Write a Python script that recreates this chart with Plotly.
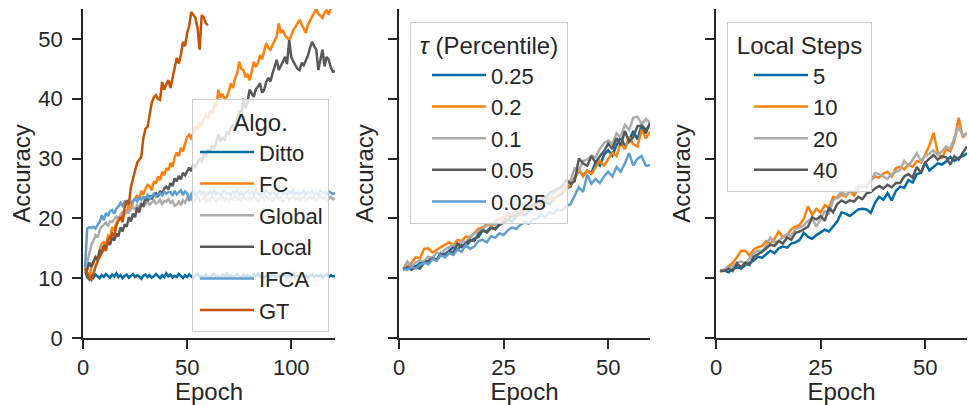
import plotly.graph_objects as go

# ---------------- data ----------------
# Panel 1: accuracy per epoch for each algorithm
algo_names = ["Ditto", "FC", "Global", "Local", "IFCA", "GT"]

ditto = [11.2, 10.2, 9.8, 10.4, 10.1, 10.6, 10.3, 10.0, 10.5, 10.2,
         10.7, 10.4, 10.1, 10.6, 10.3, 10.8, 10.2, 10.5, 10.0, 10.4,
         10.6, 10.1, 10.4, 10.7, 10.2, 10.5, 10.3, 9.9, 10.4, 10.6,
         10.2, 10.5, 10.1, 10.3, 10.7, 10.4, 10.0, 10.5, 10.2, 10.8,
         10.3, 10.6, 10.1, 10.4, 10.2, 10.7, 10.3, 10.0, 10.5, 10.2,
         10.6, 10.3, 10.0, 10.5, 10.8, 10.2, 10.4, 10.1, 10.6, 10.3,
         10.0, 10.5, 10.7, 10.2, 10.4, 10.1, 10.6, 10.3, 10.8, 10.2,
         10.5, 10.0, 10.4, 10.7, 10.3, 10.1, 10.6, 10.2, 10.5, 10.4,
         10.1, 10.6, 10.3, 10.8, 10.2, 10.5, 10.0, 10.4, 10.6, 10.2,
         10.7, 10.3, 10.1, 10.5, 10.2, 10.6, 10.4, 10.0, 10.5, 10.3,
         10.8, 10.2, 10.4, 10.1, 10.6, 10.3, 10.5, 10.0, 10.4, 10.7,
         10.2, 10.5, 10.3, 10.6, 10.1, 10.4, 10.7, 10.2, 10.5, 10.3, 10.4]

fc = [11.5, 11.0, 10.2, 11.8, 12.4, 13.6, 13.2, 14.5, 15.8, 16.0,
      15.4, 17.1, 16.8, 18.5, 18.0, 19.2, 19.8, 20.5, 19.9, 21.2,
      21.0, 22.2, 21.6, 22.8, 23.3, 23.9, 23.1, 24.6, 24.0, 25.0,
      25.6, 25.3, 24.7, 26.2, 25.8, 27.0, 26.4, 27.8, 27.2, 28.4,
      28.0, 29.3, 28.6, 30.2, 31.0, 30.4, 31.8, 31.2, 32.5, 33.6,
      34.0, 33.2, 34.5, 35.3, 34.8, 36.0, 35.4, 36.6, 37.2, 36.8,
      38.0, 37.5, 39.2, 38.6, 41.5, 40.2, 40.8, 39.9, 40.3, 41.2,
      42.6, 41.8, 43.4, 44.2, 46.2, 45.0, 44.8, 43.6, 44.0, 43.1,
      44.5, 46.2, 45.3, 46.0, 47.3, 46.6, 48.0, 49.3, 48.5, 48.2,
      49.0, 49.8, 50.4, 52.6, 51.0, 51.5, 50.6, 50.2, 49.8, 50.6,
      51.5, 52.0, 52.6, 53.2, 52.4, 51.8, 51.0, 52.4, 53.0, 53.7,
      54.3, 55.0, 54.2, 53.8, 53.5, 54.4, 54.8, 54.0, 55.3, 55.6, 55.8]

global_ = [11.0, 12.6, 14.5, 15.6, 16.2, 17.2, 16.8, 18.0, 18.6, 19.0,
           19.3, 18.7, 19.5, 19.4, 19.8, 20.3, 19.9, 20.6, 21.0, 20.7,
           21.3, 21.0, 21.6, 21.9, 21.4, 22.2, 21.8, 22.5, 22.0, 22.4,
           22.8, 22.3, 22.6, 23.0, 22.5, 22.7, 23.1, 22.4, 22.9, 22.8,
           23.2, 22.6, 22.9, 22.1, 22.3, 22.8, 22.2, 23.0, 22.6, 23.3,
           23.0, 23.4, 22.7, 23.2, 23.6, 22.9, 23.1, 23.5, 22.8, 23.3,
           23.0, 23.6, 23.2, 22.8, 23.4, 23.1, 23.7, 23.0, 23.3, 22.9,
           23.5, 23.2, 23.8, 23.1, 23.4, 22.9, 23.6, 23.3, 23.0, 23.5,
           23.2, 23.7, 23.4, 22.9, 23.3, 23.6, 23.1, 23.8, 23.2, 23.5,
           23.0, 23.4, 23.7, 23.2, 23.5, 22.9, 23.3, 23.6, 23.1, 23.4,
           23.8, 23.2, 23.5, 23.0, 23.4, 23.7, 23.1, 23.3, 23.6, 23.2,
           23.5, 22.9, 23.4, 23.7, 23.2, 23.5, 23.0, 23.3, 23.6, 23.2, 23.4]

local = [11.5, 11.4, 12.6, 11.9, 12.8, 13.5, 13.0, 14.7, 14.2, 15.5,
         15.0, 16.1, 15.6, 16.9, 16.3, 17.4, 17.0, 18.5, 17.8, 19.0,
         18.6, 20.2, 19.5, 20.8, 20.2, 21.8, 21.0, 22.5, 22.0, 23.6,
         22.9, 23.8, 23.2, 24.0, 24.2, 23.6, 24.6, 24.1, 25.0, 25.3,
         24.8, 25.9, 25.4, 26.7, 26.2, 27.1, 26.5, 27.6, 27.2, 28.0,
         28.5, 27.9, 29.0, 28.6, 29.3, 30.0, 29.4, 30.8, 30.3, 31.5,
         31.0, 32.2, 31.6, 33.0, 34.0, 32.8, 33.6, 33.0, 34.5, 34.0,
         35.2, 35.5, 34.8, 36.6, 38.0, 37.2, 40.0, 38.4, 39.5, 41.5,
         40.8, 40.3, 41.6, 42.0, 42.6, 41.0, 41.5, 42.8, 43.5, 42.9,
         44.2, 45.3, 46.5, 44.8, 45.4, 46.2, 47.0, 45.8, 49.8, 47.0,
         46.2, 45.5, 45.0, 44.8, 46.0, 45.6, 46.5, 47.2, 48.5, 49.5,
         48.8, 48.2, 44.8, 46.6, 48.2, 45.4, 47.0, 46.5, 45.2, 44.5, 44.6]

ifca = [11.8, 18.3, 18.5, 18.4, 18.6, 18.3, 18.9, 19.4, 20.5, 19.7,
        20.9, 20.4, 21.2, 21.4, 20.8, 21.6, 22.0, 22.6, 22.1, 22.8,
        22.4, 23.0, 22.6, 23.0, 23.3, 22.8, 23.5, 23.1, 23.6, 23.4,
        23.9, 23.3, 23.7, 24.1, 23.6, 24.0, 24.2, 23.8, 24.5, 24.1,
        24.4, 24.4, 23.8, 24.6, 24.0, 24.3, 24.7, 23.9, 24.5, 24.2,
        23.0, 24.1, 24.5, 23.9, 24.3, 24.6, 24.0, 24.4, 23.8, 24.2,
        24.5, 24.1, 24.7, 24.0, 24.3, 23.8, 24.4, 24.6, 24.1, 24.3,
        23.9, 24.5, 24.2, 24.7, 24.0, 24.4, 23.8, 24.3, 24.6, 24.1,
        24.4, 24.0, 24.6, 24.2, 23.9, 24.5, 24.1, 24.7, 24.3, 24.0,
        24.5, 24.2, 23.8, 24.4, 24.6, 24.1, 24.3, 24.0, 24.5, 24.2,
        24.7, 24.1, 24.4, 23.9, 24.3, 24.6, 24.0, 24.4, 24.2, 24.5,
        24.1, 24.3, 23.9, 24.6, 24.2, 24.4, 24.0, 24.5, 24.3, 24.1, 24.2]

gt = [11.7, 10.8, 10.0, 9.7, 11.0, 11.9, 12.8, 13.5, 14.2, 15.0,
      14.6, 16.3, 16.8, 17.5, 17.0, 18.8, 19.6, 20.2, 19.4, 21.8,
      23.0, 22.3, 25.2, 26.4, 28.0, 29.3, 29.8, 30.3, 33.5, 35.0,
      35.3, 37.5, 39.3, 40.2, 40.6, 40.0, 39.8, 42.8, 41.5, 42.4,
      43.1, 41.8, 43.6, 45.5, 46.8, 45.9, 47.3, 49.5, 48.8, 51.0,
      52.2, 54.5, 53.9, 53.5, 51.8, 48.2, 54.0, 53.6, 52.6, 52.3]

# Panel 2: accuracy per epoch for each percentile threshold tau
tau_names = ["0.25", "0.2", "0.1", "0.05", "0.025"]

tau_025 = [11.5, 11.6, 12.2, 11.9, 12.5, 12.9, 12.6, 13.4, 13.1, 14.2,
           14.0, 14.6, 15.2, 14.8, 15.6, 15.3, 16.2, 16.6, 16.9, 18.0,
           17.8, 18.6, 18.2, 19.0, 19.4, 19.8, 19.5, 20.3, 20.8, 20.5,
           21.2, 21.8, 21.4, 22.3, 22.8, 22.4, 23.3, 23.8, 24.2, 25.0,
           25.3, 26.8, 28.0, 27.2, 28.0, 27.6, 29.4, 28.8, 30.6, 31.4,
           30.5, 32.2, 33.6, 32.0, 33.0, 34.6, 33.2, 35.6, 34.8, 35.6]

tau_02 = [11.5, 12.0, 12.6, 13.5, 13.3, 14.9, 15.0, 14.3, 14.8, 15.2,
          15.6, 16.0, 15.5, 16.4, 16.2, 17.0, 16.8, 17.6, 18.3, 18.5,
          19.0, 18.7, 19.6, 20.0, 19.6, 20.8, 20.3, 21.1, 20.6, 21.3,
          21.9, 21.5, 22.4, 22.0, 22.9, 23.4, 23.0, 23.9, 24.5, 25.0,
          25.6, 26.6, 28.2, 27.0, 28.0, 27.4, 28.6, 29.6, 28.8, 29.8,
          31.0, 30.4, 32.6, 31.6, 33.6, 32.4, 32.0, 34.8, 33.4, 34.5]

tau_01 = [11.5, 12.8, 12.0, 12.6, 13.0, 12.8, 13.6, 13.4, 14.3, 14.0,
          14.8, 15.2, 15.6, 15.4, 16.2, 16.0, 17.0, 17.4, 17.8, 18.3,
          18.8, 19.2, 18.9, 19.8, 20.2, 20.9, 20.5, 21.3, 21.1, 21.5,
          22.2, 22.0, 22.8, 23.1, 23.6, 23.4, 24.2, 24.8, 25.0, 25.5,
          26.3, 28.4, 28.0, 29.6, 29.8, 30.5, 30.2, 31.6, 32.6, 33.0,
          32.4, 34.2, 33.6, 35.6, 34.8, 36.8, 37.0, 35.8, 36.6, 36.0]

tau_005 = [11.5, 11.8, 11.4, 11.9, 11.6, 12.6, 12.9, 13.3, 13.0, 14.0,
           13.8, 14.5, 14.3, 15.8, 15.2, 15.9, 16.4, 16.2, 17.4, 18.0,
           17.6, 18.4, 18.2, 18.9, 19.3, 19.8, 20.5, 20.4, 21.0, 21.5,
           21.9, 22.3, 22.6, 23.2, 23.5, 24.2, 24.6, 25.0, 25.4, 26.4,
           25.8, 26.2, 30.0, 29.2, 28.8, 30.4, 29.3, 30.4, 31.2, 32.5,
           31.6, 33.4, 32.2, 34.6, 32.8, 33.6, 35.4, 35.5, 34.2, 36.0]

tau_0025 = [11.5, 11.4, 11.9, 11.6, 12.2, 12.6, 12.3, 13.2, 12.9, 13.8,
            13.5, 14.2, 13.9, 14.8, 14.4, 15.6, 14.9, 15.3, 16.2, 16.4,
            16.0, 17.0, 16.8, 17.5, 17.2, 18.0, 18.5, 18.2, 18.9, 19.4,
            19.1, 19.8, 20.0, 20.6, 20.2, 21.0, 20.8, 21.5, 21.3, 22.0,
            22.4, 23.9, 25.2, 24.4, 27.3, 25.8, 26.6, 25.9, 27.0, 27.8,
            27.0, 28.6, 27.8, 29.2, 30.9, 28.8, 30.0, 30.4, 28.8, 28.9]

# Panel 3: accuracy per epoch for each number of local steps
step_names = ["5", "10", "20", "40"]

steps_5 = [11.2, 11.3, 11.0, 11.5, 11.8, 11.6, 12.2, 12.5, 12.9, 13.6,
           13.4, 14.0, 14.6, 14.2, 15.0, 15.3, 15.1, 15.8, 16.0, 16.4,
           17.6, 16.9, 16.6, 17.2, 17.6, 18.1, 17.8, 18.6, 19.5, 21.0,
           20.8, 20.4, 21.0, 21.5, 21.6, 21.5, 20.9, 22.6, 23.6, 23.1,
           24.2, 23.0, 24.6, 25.3, 25.1, 26.4, 26.0, 27.4, 27.6, 29.4,
           28.0, 28.6, 29.2, 29.0, 29.5, 30.3, 29.6, 30.1, 30.4, 30.9]

steps_10 = [11.0, 11.4, 12.0, 12.6, 13.5, 14.6, 14.6, 13.8, 14.8, 15.2,
            15.4, 16.2, 15.8, 16.6, 17.8, 16.8, 17.2, 18.2, 18.6, 18.9,
            20.0, 22.0, 20.6, 21.6, 21.0, 22.2, 21.8, 23.6, 23.4, 24.0,
            23.6, 24.6, 23.8, 25.0, 25.5, 25.2, 26.4, 27.0, 26.8, 27.5,
            27.8, 27.0, 28.4, 28.6, 28.2, 29.0, 28.6, 29.6, 29.3, 30.6,
            32.2, 34.3, 31.0, 30.0, 31.6, 31.2, 33.0, 36.8, 33.5, 34.3]

steps_20 = [11.0, 11.5, 11.8, 12.0, 12.6, 12.8, 12.4, 13.4, 14.2, 14.6,
            14.5, 15.4, 16.8, 16.0, 16.2, 16.9, 17.4, 17.0, 18.2, 18.5,
            18.8, 19.6, 20.0, 18.6, 19.8, 21.2, 20.8, 23.0, 23.6, 24.5,
            23.8, 24.6, 24.4, 25.6, 25.2, 25.5, 26.2, 27.6, 27.4, 27.0,
            26.6, 27.4, 27.8, 28.1, 29.6, 28.8, 29.8, 30.9, 29.6, 30.4,
            30.8, 31.4, 30.6, 31.2, 32.0, 31.6, 33.5, 35.3, 33.8, 34.3]

steps_40 = [11.3, 11.2, 11.6, 11.2, 12.5, 11.8, 12.6, 12.2, 13.6, 14.0,
            14.4, 15.0, 15.6, 15.4, 16.2, 15.8, 16.8, 16.4, 17.6, 17.8,
            18.2, 18.6, 20.2, 19.8, 20.4, 19.6, 21.8, 21.0, 22.4, 23.0,
            22.6, 23.0, 22.8, 23.6, 23.2, 24.2, 24.4, 25.0, 25.4, 25.0,
            25.6, 25.2, 25.9, 25.9, 27.0, 27.4, 26.8, 28.6, 27.6, 29.3,
            30.0, 30.6, 29.8, 30.4, 30.2, 29.0, 30.4, 29.8, 31.0, 32.0]

y_ticks = [0, 10, 20, 30, 40, 50]
x_ticks_left = [0, 50, 100]
x_ticks_right = [0, 25, 50]

# ---------------- style ----------------
palette = ["#006BA4", "#FF800E", "#ABABAB", "#595959", "#5F9ED1", "#C85200"]
FONT = "Arial, Liberation Sans, sans-serif"
INK = "#262626"
TICK_SIZE = 22
LABEL_SIZE = 24
LINE_W = 2.5
NBSP = "\u00a0"

fig = go.Figure()


def add_series(values, name, color, xa, ya, legend):
    epochs = list(range(1, len(values) + 1))
    fig.add_trace(go.Scatter(
        x=epochs, y=values, mode="lines", name=name,
        line=dict(color=color, width=LINE_W),
        xaxis=xa, yaxis=ya, legend=legend, legendgroup=legend + name,
        showlegend=True,
    ))


for name, vals, col in zip(algo_names, [ditto, fc, global_, local, ifca, gt], palette):
    add_series(vals, name, col, "x", "y", "legend")

for name, vals, col in zip(tau_names, [tau_025, tau_02, tau_01, tau_005, tau_0025], palette):
    add_series(vals, name, col, "x2", "y2", "legend2")

for name, vals, col in zip(step_names, [steps_5, steps_10, steps_20, steps_40], palette):
    add_series(vals, name, col, "x3", "y3", "legend3")

W, H = 969, 405
y_dom = [67 / H, 396 / H]
x_doms = [[83 / W, 335 / W], [399 / W, 650 / W], [716 / W, 967 / W]]


def xaxis_style(dom, rng, ticks):
    return dict(
        domain=dom, range=rng, tickvals=ticks, showgrid=False, zeroline=False,
        showline=True, linecolor=INK, linewidth=1.9, ticks="outside",
        ticklen=9, tickwidth=1.9, tickcolor=INK, automargin=False,
        tickfont=dict(family=FONT, size=TICK_SIZE, color=INK),
        title=dict(text="Epoch", font=dict(family=FONT, size=LABEL_SIZE, color=INK),
                   standoff=4),
    )


def yaxis_style(anchor, labels, standoff):
    return dict(
        domain=y_dom, range=[0, 55], tickvals=y_ticks, showgrid=False, zeroline=False,
        showline=True, linecolor=INK, linewidth=1.9, ticks="outside",
        ticklen=9, tickwidth=1.9, tickcolor=INK, anchor=anchor, automargin=False,
        showticklabels=labels, ticklabelstandoff=5,
        tickfont=dict(family=FONT, size=TICK_SIZE, color=INK),
        title=dict(text="Accuracy", font=dict(family=FONT, size=LABEL_SIZE, color=INK),
                   standoff=standoff),
    )


def legend_style(x, y, title, indent):
    return dict(
        x=x, y=y, xanchor="left", yanchor="top",
        bgcolor="rgba(255,255,255,0.8)", bordercolor="#CCCCCC", borderwidth=1,
        font=dict(family=FONT, size=TICK_SIZE, color=INK),
        title=dict(text=title, side="top center",
                   font=dict(family=FONT, size=LABEL_SIZE, color=INK)),
        tracegroupgap=0, itemwidth=54, indentation=indent,
    )


fig.update_layout(
    width=W, height=H,
    margin=dict(l=0, r=0, t=0, b=0),
    plot_bgcolor="white", paper_bgcolor="white",
    font=dict(family=FONT, color=INK),
    xaxis=dict(xaxis_style(x_doms[0], [0, 121], x_ticks_left), anchor="y"),
    xaxis2=dict(xaxis_style(x_doms[1], [0, 60], x_ticks_right), anchor="y2"),
    xaxis3=dict(xaxis_style(x_doms[2], [0, 60], x_ticks_right), anchor="y3"),
    yaxis=yaxis_style("x", True, 1),
    yaxis2=yaxis_style("x2", False, 8),
    yaxis3=yaxis_style("x3", False, 8),
    legend=legend_style(192 / W, 1 - 99 / H, "Algo.", 2),
    legend2=legend_style(410 / W, 1 - 22 / H,
                         NBSP + "<i>τ</i> (Percentile)" + NBSP, 16),
    legend3=legend_style(727 / W, 1 - 22 / H, NBSP + "Local Steps" + NBSP, 21),
    showlegend=True,
)

fig.write_html("out.html")
